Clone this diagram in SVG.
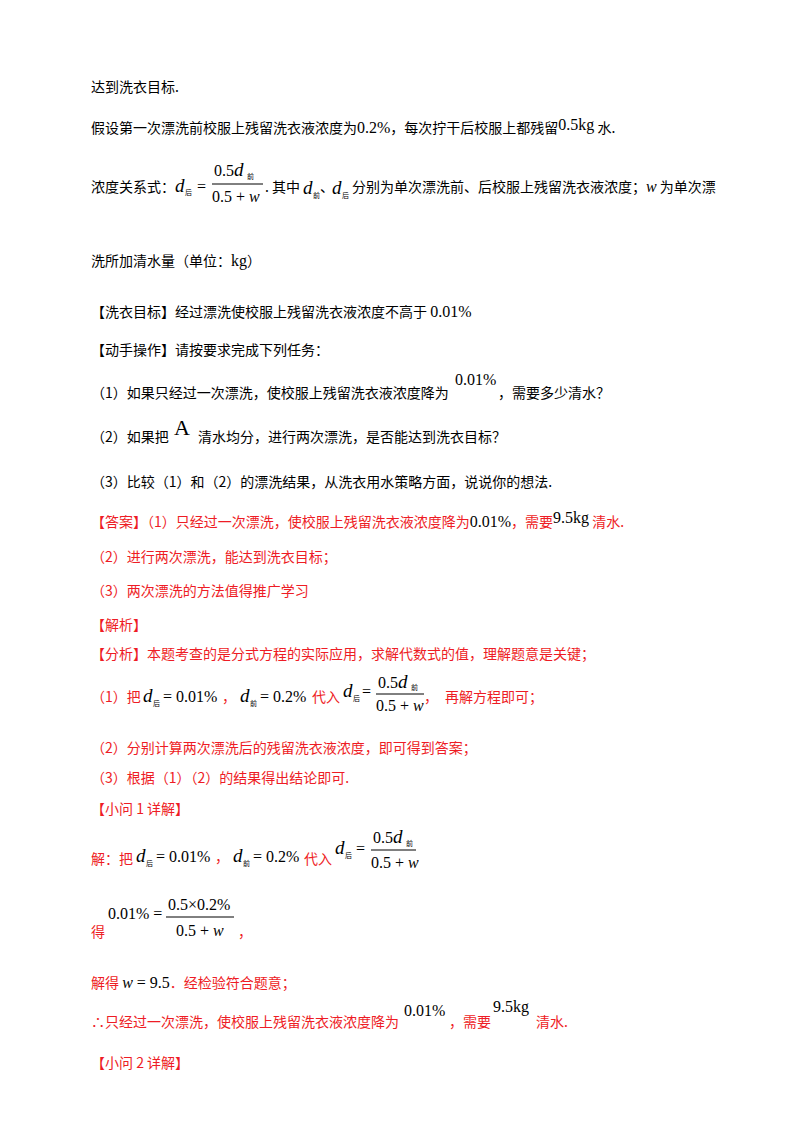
<svg xmlns="http://www.w3.org/2000/svg" width="800" height="1132" viewBox="0 0 800 1132">
<style>
text{font-family:"Liberation Serif","Noto Sans CJK SC",serif;font-size:14px;fill:#000}
.c{font-family:"Noto Sans CJK SC",sans-serif;font-size:14px}
.r{fill:#ee1c25}
.m{font-family:"Liberation Serif",serif;font-size:16px}
.i{font-style:italic}
.d{font-size:19px;font-style:italic}
.s{font-family:"Noto Sans CJK SC",sans-serif;font-size:7px}
line{stroke:#000;stroke-width:1}
</style>
<rect width="800" height="1132" fill="#fff"/>
<text class="c" x="91" y="92">达到洗衣目标.</text>
<text class="c" x="91" y="133">假设第一次漂洗前校服上残留洗衣液浓度为<tspan class="m">0.2%</tspan>，每次拧干后校服上都残留<tspan class="m" dy="-3">0.5kg</tspan><tspan dy="3"> 水.</tspan></text>
<g id="eq1">
<text class="c" x="91" y="192">浓度关系式：</text>
<text class="m d" x="175" y="192">d</text><text class="s" x="185" y="195">后</text>
<text class="m" x="197" y="192">=</text>
<text class="m" x="214" y="176">0.5<tspan class="d">d</tspan></text><text class="s" x="247" y="179">前</text>
<line x1="212" y1="184" x2="263" y2="184"/>
<text class="m" x="212" y="202">0.5 + <tspan class="i">w</tspan></text>
<text class="c" x="265" y="192">. 其中</text>
<text class="m d" x="303" y="194">d</text><text class="s" x="313" y="198">前</text>
<text class="c" x="320" y="192">、</text>
<text class="m d" x="332" y="194">d</text><text class="s" x="342" y="198">后</text>
<text class="c" x="352" y="192">分别为单次漂洗前、后校服上残留洗衣液浓度；<tspan class="m i">w</tspan> 为单次漂</text>
</g>
<text class="c" x="91" y="266">洗所加清水量（单位：<tspan class="m">kg</tspan>）</text>
<text class="c" x="91" y="317">【洗衣目标】经过漂洗使校服上残留洗衣液浓度不高于 <tspan class="m">0.01%</tspan></text>
<text class="c" x="91" y="355">【动手操作】请按要求完成下列任务：</text>
<text class="c" x="91" y="398">（1）如果只经过一次漂洗，使校服上残留洗衣液浓度降为</text>
<text class="m" x="455" y="385">0.01%</text>
<text class="c" x="498" y="398">，需要多少清水？</text>
<text class="c" x="91" y="442">（2）如果把</text>
<text x="174" y="435" style="font-size:22px;font-family:'Liberation Serif',serif">A</text>
<text class="c" x="198" y="442">清水均分，进行两次漂洗，是否能达到洗衣目标？</text>
<text class="c" x="91" y="487">（3）比较（1）和（2）的漂洗结果，从洗衣用水策略方面，说说你的想法.</text>
<g class="r">
<text class="c r" x="91" y="527">【答案】（1）只经过一次漂洗，使校服上残留洗衣液浓度降为<tspan class="m" fill="#000">0.01%</tspan>，需要<tspan class="m" fill="#000" dy="-4">9.5kg</tspan><tspan dy="4"> 清水.</tspan></text>
<text class="c r" x="91" y="562">（2）进行两次漂洗，能达到洗衣目标；</text>
<text class="c r" x="91" y="596">（3）两次漂洗的方法值得推广学习</text>
<text class="c r" x="91" y="630">【解析】</text>
<text class="c r" x="91" y="659">【分析】本题考查的是分式方程的实际应用，求解代数式的值，理解题意是关键；</text>
</g>
<g id="eq2">
<text class="c r" x="91" y="702">（1）把</text>
<text class="m d" x="143" y="702">d</text><text class="s" x="153" y="706">后</text>
<text class="m" x="163" y="702">= 0.01%</text>
<text class="c r" x="222" y="702">，</text>
<text class="m d" x="240" y="702">d</text><text class="s" x="250" y="706">前</text>
<text class="m" x="260" y="702">= 0.2%</text>
<text class="c r" x="312" y="702">代入</text>
<text class="m d" x="343" y="697">d</text><text class="s" x="353" y="701">后</text>
<text class="m" x="362" y="697">=</text>
<text class="m" x="378" y="688">0.5<tspan class="d">d</tspan></text><text class="s" x="411" y="690">前</text>
<line x1="376" y1="694" x2="424" y2="694"/>
<text class="m" x="376" y="711">0.5 + <tspan class="i">w</tspan></text>
<text class="c r" x="424" y="702">，　再解方程即可；</text>
</g>
<text class="c r" x="91" y="753">（2）分别计算两次漂洗后的残留洗衣液浓度，即可得到答案；</text>
<text class="c r" x="91" y="783">（3）根据（1）（2）的结果得出结论即可.</text>
<text class="c r" x="91" y="814">【小问 1 详解】</text>
<g id="eq3">
<text class="c r" x="91" y="864">解：把</text>
<text class="m d" x="136" y="862">d</text><text class="s" x="146" y="866">后</text>
<text class="m" x="156" y="862">= 0.01%</text>
<text class="c r" x="215" y="862">，</text>
<text class="m d" x="233" y="862">d</text><text class="s" x="243" y="866">前</text>
<text class="m" x="253" y="862">= 0.2%</text>
<text class="c r" x="304" y="864">代入</text>
<text class="m d" x="335" y="854">d</text><text class="s" x="345" y="858">后</text>
<text class="m" x="356" y="854">=</text>
<text class="m" x="373" y="843">0.5<tspan class="d">d</tspan></text><text class="s" x="406" y="846">前</text>
<line x1="371" y1="850" x2="416" y2="850"/>
<text class="m" x="371" y="868">0.5 + <tspan class="i">w</tspan></text>
</g>
<g id="eq4">
<text class="c r" x="91" y="937">得</text>
<text class="m" x="108" y="919">0.01% =</text>
<text class="m" x="168" y="910">0.5×0.2%</text>
<line x1="166" y1="917" x2="234" y2="917"/>
<text class="m" x="176" y="936">0.5 + <tspan class="i">w</tspan></text>
<text class="c r" x="238" y="937">，</text>
</g>
<text class="c r" x="91" y="988">解得 <tspan class="m i" fill="#000">w</tspan><tspan class="m" fill="#000"> = 9.5</tspan>．经检验符合题意；</text>
<text class="c r" x="91" y="1027">∴只经过一次漂洗，使校服上残留洗衣液浓度降为</text>
<text class="m" x="404" y="1016">0.01%</text>
<text class="c r" x="449" y="1027">，需要</text>
<text class="m" x="493" y="1012">9.5kg</text>
<text class="c r" x="536" y="1027">清水.</text>
<text class="c r" x="91" y="1068">【小问 2 详解】</text>
</svg>
